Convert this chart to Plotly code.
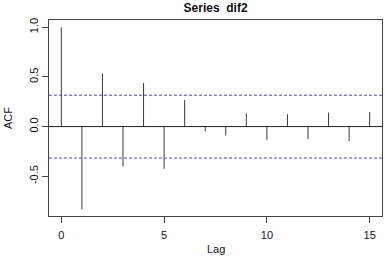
import plotly.graph_objects as go

lags = list(range(16))
acf_vals = [1.0, -0.834, 0.533, -0.402, 0.439, -0.425, 0.268, -0.047,
            -0.09, 0.134, -0.134, 0.124, -0.127, 0.14, -0.147, 0.147]
ci = 0.316
x_ticks = [0, 5, 10, 15]
y_ticks = [-0.5, 0.0, 0.5, 1.0]
y_tick_text = ["-0.5", "0.0", "0.5", "1.0"]

xs, ys = [], []
for l, v in zip(lags, acf_vals):
    xs += [l, l, None]
    ys += [0, v, None]

fig = go.Figure()
fig.add_trace(go.Scatter(x=xs, y=ys, mode="lines",
                         line=dict(color="#3a3a3a", width=1), hoverinfo="skip",
                         showlegend=False))

fig.add_shape(type="line", xref="paper", x0=0, x1=1, yref="y", y0=0, y1=0,
              line=dict(color="#222222", width=1))
for c in (ci, -ci):
    fig.add_shape(type="line", xref="paper", x0=0, x1=1, yref="y", y0=c, y1=c,
                  line=dict(color="#4040ff", width=1, dash="3px,2px"))

font = "Liberation Sans, Arial, sans-serif"
fig.add_annotation(text="Lag", xref="paper", yref="paper", x=0.5, y=-0.13,
                   xanchor="center", yanchor="top", showarrow=False,
                   font=dict(size=11))
fig.add_annotation(text="ACF", xref="paper", yref="paper", x=-0.123, y=0.5,
                   xanchor="center", yanchor="middle", textangle=-90,
                   showarrow=False, font=dict(size=11))

fig.update_layout(
    width=385, height=256,
    margin=dict(l=49, r=3, t=20, b=40, autoexpand=False),
    paper_bgcolor="white", plot_bgcolor="white",
    font=dict(family=font, size=11, color="#111111"),
    title=dict(text="<b>Series  dif2</b>", x=0.56, xanchor="center",
               y=0.985, yanchor="top", font=dict(size=12, color="#111111")),
    xaxis=dict(range=[-0.6, 15.6], tickvals=x_ticks, ticks="outside", ticklen=6,
               tickcolor="#444444", showgrid=False, zeroline=False,
               showline=True, linecolor="#444444", linewidth=1, mirror=True,
               automargin=False, ticklabelstandoff=3),
    yaxis=dict(range=[-0.9, 1.073], tickvals=y_ticks, ticktext=y_tick_text,
               tickangle=-90, ticks="outside", ticklen=6,
               tickcolor="#444444", showgrid=False, zeroline=False,
               showline=True, linecolor="#444444", linewidth=1, mirror=True,
               automargin=False),
)

fig.write_html("out.html", config={"displayModeBar": False},
               post_script="document.body.style.margin='0';document.body.style.overflow='hidden';")
